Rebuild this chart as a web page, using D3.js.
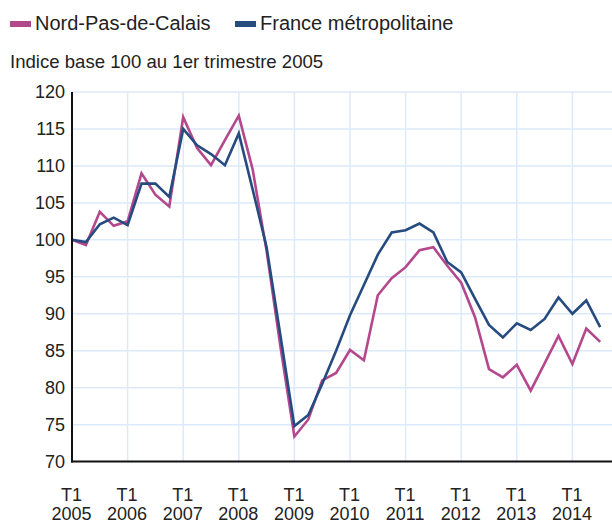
<!DOCTYPE html>
<html>
<head>
<meta charset="utf-8">
<script src="https://cdn.jsdelivr.net/npm/d3@7"></script>
<style>
  body { margin: 0; background: #fff; }
  svg { font-family: "Liberation Sans", Arial, sans-serif; }
</style>
</head>
<body>
<svg id="chart" width="612" height="523"></svg>
<script>
// series names / colours
var seriesNames = ["Nord-Pas-de-Calais", "France métropolitaine"];
var seriesColors = ["#b4488d", "#264b7f"];

// quarterly index, 2005 T1 -> 2014 T3
var years = ["2005","2006","2007","2008","2009","2010","2011","2012","2013","2014"];
var quarterNames = ["T1","T2","T3","T4"];
var nordPasDeCalais = [100, 99.3, 103.8, 101.9, 102.5, 109.0, 106.1, 104.5, 116.6, 112.4,
    110.1, 113.5, 116.8, 109.5, 98.5, 85.5, 73.4, 75.7, 81.0, 82.0,
    85.1, 83.7, 92.5, 94.8, 96.3, 98.6, 99.0, 96.5, 94.2, 89.5,
    82.5, 81.4, 83.1, 79.6, 83.3, 87.0, 83.2, 88.0, 86.2];
var franceMetro = [100, 99.7, 102.1, 103.0, 102.0, 107.6, 107.6, 105.8, 115.0, 112.8,
    111.6, 110.1, 114.4, 106.8, 99.0, 87.0, 74.8, 76.3, 80.5, 85.0,
    89.8, 93.9, 98.0, 101.0, 101.3, 102.2, 101.0, 97.0, 95.6, 92.0,
    88.5, 86.8, 88.7, 87.8, 89.3, 92.2, 90.0, 91.8, 88.2];
var yTicks = [70, 75, 80, 85, 90, 95, 100, 105, 110, 115, 120];
var subtitle = "Indice base 100 au 1er trimestre 2005";

// period labels for each point
var periods = [];
years.forEach(function(yr) {
    quarterNames.forEach(function(q) { periods.push(q + " " + yr); });
});
periods = periods.slice(0, franceMetro.length);

var svg = d3.select("#chart");
var plotLeft = 72, plotRight = 612, plotTop = 92, plotBottom = 461.6;

var x = d3.scaleLinear().domain([0, franceMetro.length - 1]).range([plotLeft, 600.2]);
var y = d3.scaleLinear().domain([70, 120]).range([plotBottom, plotTop]);

// legend
var legend = svg.append("g").attr("class", "legend");
var legendX = [10, 235];
seriesNames.forEach(function(name, i) {
    legend.append("rect")
        .attr("x", legendX[i]).attr("y", 21)
        .attr("width", 21).attr("height", 6)
        .attr("fill", seriesColors[i]);
    legend.append("text")
        .attr("x", legendX[i] + 25).attr("y", 30)
        .attr("font-size", 20).attr("fill", "#222")
        .text(name);
});

svg.append("text")
    .attr("x", 10).attr("y", 68)
    .attr("font-size", 18.6).attr("fill", "#222")
    .text(subtitle);

// grid
var yearIdx = d3.range(0, periods.length, 4);

svg.append("g")
    .attr("class", "ygrid")
    .selectAll("line")
    .data(yTicks)
    .enter().append("line")
    .attr("x1", plotLeft).attr("x2", plotRight)
    .attr("y1", function(d) { return y(d); })
    .attr("y2", function(d) { return y(d); })
    .attr("stroke", "#ddeafb").attr("stroke-width", 1.5);

svg.append("g")
    .attr("class", "xgrid")
    .selectAll("line")
    .data(yearIdx.slice(1))
    .enter().append("line")
    .attr("x1", function(d) { return x(d); })
    .attr("x2", function(d) { return x(d); })
    .attr("y1", plotTop).attr("y2", plotBottom)
    .attr("stroke", "#ddeafb").attr("stroke-width", 1.5);

// y axis labels
var yAxis = d3.axisLeft(y).tickValues(yTicks).tickSize(0).tickPadding(7);
svg.append("g")
    .attr("transform", "translate(" + plotLeft + ",0)")
    .call(yAxis)
    .call(function(g) { g.select(".domain").remove(); })
    .selectAll("text")
    .attr("font-family", "Liberation Sans, Arial, sans-serif")
    .attr("font-size", 18).attr("fill", "#222");

// x axis labels (two lines)
var xAxis = d3.axisBottom(x).tickValues(yearIdx).tickSize(0).tickFormat(function() { return ""; });
var xg = svg.append("g")
    .attr("transform", "translate(0," + plotBottom + ")")
    .call(xAxis)
    .call(function(g) { g.select(".domain").remove(); });
xg.selectAll(".tick").each(function(d) {
    var parts = periods[d].split(" ");
    var t = d3.select(this).select("text")
        .attr("y", 0).attr("dy", null)
        .attr("font-family", "Liberation Sans, Arial, sans-serif")
        .attr("font-size", 18).attr("fill", "#222");
    t.append("tspan").attr("x", -1).attr("y", 39).text(parts[0]);
    t.append("tspan").attr("x", -1).attr("y", 58).text(parts[1]);
});

// series lines
var line = d3.line()
    .x(function(d, i) { return x(i); })
    .y(function(d) { return y(d); });

[nordPasDeCalais, franceMetro].forEach(function(data, i) {
    svg.append("path")
        .datum(data)
        .attr("fill", "none")
        .attr("stroke", seriesColors[i])
        .attr("stroke-width", 2.6)
        .attr("stroke-linejoin", "miter")
        .attr("d", line);
});

// axis lines
svg.append("line")
    .attr("x1", plotLeft).attr("x2", plotLeft).attr("y1", plotTop).attr("y2", plotBottom + 1)
    .attr("stroke", "#111").attr("stroke-width", 2);
svg.append("line")
    .attr("x1", plotLeft - 1).attr("x2", plotRight).attr("y1", plotBottom).attr("y2", plotBottom)
    .attr("stroke", "#111").attr("stroke-width", 2);
</script>
</body>
</html>
